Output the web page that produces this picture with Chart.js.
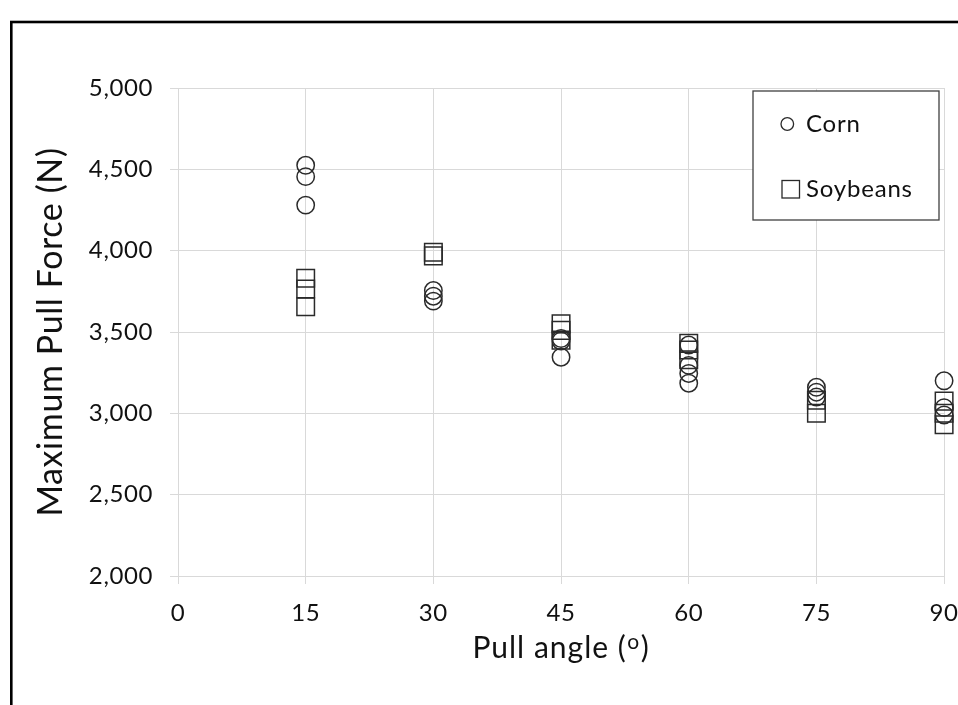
<!DOCTYPE html>
<html>
<head>
<meta charset="utf-8">
<title>Maximum Pull Force vs Pull angle</title>
<script src="https://cdn.jsdelivr.net/npm/chart.js@4.4.0/dist/chart.umd.min.js"></script>
<style>
  html, body { margin: 0; padding: 0; background: #fff; }
  #wrap { position: relative; width: 958px; height: 705px; }
</style>
</head>
<body>
<div id="wrap">
  <canvas id="pullChart" width="958" height="705"></canvas>
</div>
<script>
// pull angles (degrees) and measured peak forces (N)
const cornAngles = [15, 15, 15, 30, 30, 30, 45, 45, 45, 60, 60, 60, 60, 75, 75, 75, 90, 90, 90];
const cornForce  = [4525, 4455, 4280, 3755, 3720, 3690, 3460, 3445, 3345, 3420, 3295, 3245, 3185, 3160, 3130, 3100, 3200, 3035, 2990];

const soyAngles = [15, 15, 15, 30, 30, 45, 45, 45, 60, 60, 60, 75, 75, 90, 90, 90];
const soyForce  = [3830, 3765, 3655, 3990, 3968, 3550, 3510, 3450, 3430, 3390, 3330, 3080, 3000, 3075, 3000, 2930];

const xTicks = [0, 15, 30, 45, 60, 75, 90];
const yTicks = [2000, 2500, 3000, 3500, 4000, 4500, 5000];

const seriesNames = ['Corn', 'Soybeans'];

const FONT = 'Lato, "Noto Sans", sans-serif';
const INK = '#111';
const MARK = '#2a2a2a';
const GRID = '#d9d9d9';

function toPoints(xs, ys) {
  return xs.map((x, i) => ({ x: x, y: ys[i] }));
}

// slightly wider tracking on axis text (set again after each canvas resize)
const spacingPlugin = {
  id: 'spacing',
  beforeLayout(chart) { chart.ctx.letterSpacing = '0.6px'; },
  beforeDraw(chart) { chart.ctx.letterSpacing = '0.6px'; }
};

// outer black frame (runs off the right and bottom of the canvas)
const framePlugin = {
  id: 'frame',
  beforeDraw(chart) {
    const ctx = chart.ctx;
    ctx.save();
    ctx.fillStyle = '#fff';
    ctx.fillRect(0, 0, chart.width, chart.height);
    ctx.strokeStyle = '#000';
    ctx.lineWidth = 2.6;
    ctx.strokeRect(11.3, 22, 1200, 1200);
    ctx.restore();
  }
};

// x title with the superscript degree "o"
const xTitlePlugin = {
  id: 'xTitle',
  afterDraw(chart) {
    const ctx = chart.ctx;
    const area = chart.chartArea;
    const main = '30px ' + FONT;
    const sup = '21px ' + FONT;
    ctx.save();
    ctx.letterSpacing = '1px';
    ctx.fillStyle = INK;
    ctx.textBaseline = 'alphabetic';
    ctx.font = main;
    const w1 = ctx.measureText('Pull angle (').width;
    const w3 = ctx.measureText(')').width;
    ctx.font = sup;
    const w2 = ctx.measureText('o').width + 1;
    let x = (area.left + area.right) / 2 - (w1 + w2 + w3) / 2;
    const base = 658;
    ctx.font = main;
    ctx.fillText('Pull angle (', x, base);
    x += w1;
    ctx.font = sup;
    ctx.fillText('o', x + 0.5, base - 9.5);
    x += w2;
    ctx.font = main;
    ctx.fillText(')', x, base);
    ctx.restore();
  }
};

// boxed legend in the top right of the plot
const boxLegendPlugin = {
  id: 'boxLegend',
  afterDraw(chart) {
    const ctx = chart.ctx;
    const ds = chart.data.datasets;
    ctx.save();
    ctx.strokeStyle = '#404040';
    ctx.lineWidth = 1.3;
    ctx.fillStyle = '#fff';
    ctx.fillRect(753, 91, 186, 129);
    ctx.strokeRect(753, 91, 186, 129);

    ctx.letterSpacing = '0.8px';
    ctx.font = '24px ' + FONT;
    ctx.fillStyle = INK;
    ctx.textBaseline = 'middle';
    ctx.strokeStyle = MARK;
    ctx.lineWidth = 1.3;

    // circle marker
    ctx.beginPath();
    ctx.arc(787.3, 124, 6.3, 0, Math.PI * 2);
    ctx.stroke();
    ctx.fillText(ds[0].label, 806, 124);

    // square marker
    ctx.strokeRect(782, 180.5, 17.5, 17.5);
    ctx.fillText(ds[1].label, 806, 189);
    ctx.restore();
  }
};

new Chart(document.getElementById('pullChart'), {
  type: 'scatter',
  data: {
    datasets: [
      {
        label: seriesNames[0],
        data: toPoints(cornAngles, cornForce),
        clip: false,
        pointStyle: 'circle',
        pointRadius: 8.7,
        pointBorderWidth: 1.5,
        pointBorderColor: MARK,
        pointBackgroundColor: 'rgba(0,0,0,0)'
      },
      {
        label: seriesNames[1],
        data: toPoints(soyAngles, soyForce),
        clip: false,
        pointStyle: 'rect',
        pointRadius: 12.4,
        pointBorderWidth: 1.5,
        pointBorderColor: MARK,
        pointBackgroundColor: 'rgba(0,0,0,0)'
      }
    ]
  },
  options: {
    responsive: false,
    animation: false,
    events: [],
    layout: { padding: { top: 88, right: 13, left: 0, bottom: 0 } },
    plugins: {
      legend: { display: false },
      tooltip: { enabled: false }
    },
    scales: {
      x: {
        type: 'linear',
        min: xTicks[0],
        max: xTicks[xTicks.length - 1],
        afterBuildTicks(scale) {
          scale.ticks = xTicks.map(v => ({ value: v }));
        },
        afterFit(scale) {
          scale.height = 129;
          scale.paddingLeft = 0;
          scale.paddingRight = 0;
        },
        grid: { color: GRID, lineWidth: 1, tickLength: 8, drawTicks: true },
        border: { color: GRID, width: 1 },
        ticks: {
          color: INK,
          padding: 15,
          font: { family: FONT, size: 24 },
          maxRotation: 0
        }
      },
      y: {
        min: yTicks[0],
        max: yTicks[yTicks.length - 1],
        afterBuildTicks(scale) {
          scale.ticks = yTicks.map(v => ({ value: v }));
        },
        afterFit(scale) {
          scale.width = 178;
        },
        grid: { color: GRID, lineWidth: 1, tickLength: 8, drawTicks: true },
        border: { color: GRID, width: 1 },
        ticks: {
          color: INK,
          padding: 17,
          font: { family: FONT, size: 24 },
          callback: v => v.toLocaleString('en-US')
        },
        title: {
          display: true,
          text: 'Maximum Pull Force (N)',
          color: INK,
          font: { family: FONT, size: 34 },
          padding: { top: 31, bottom: 0 }
        }
      }
    }
  },
  plugins: [spacingPlugin, framePlugin, xTitlePlugin, boxLegendPlugin]
});
</script>
</body>
</html>
